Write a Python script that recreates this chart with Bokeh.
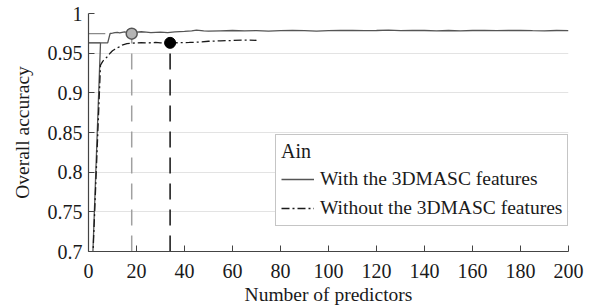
from bokeh.plotting import figure
from bokeh.models import Legend, LegendItem, FixedTicker, Range1d
from bokeh.embed import file_html
from bokeh.resources import INLINE

# ---- data ----
with_x = [1, 5, 8, 9, 10, 11, 12, 13, 14, 15, 16, 17, 18, 19, 20, 22, 24, 26, 28, 30,
          33, 36, 40, 43, 45, 48, 50, 55, 60, 65, 70, 75, 80, 85, 90, 95, 100, 105,
          110, 115, 120, 125, 130, 135, 140, 145, 150, 155, 160, 165, 170, 175, 180,
          185, 190, 195, 200]
with_y = [0.630, 0.963, 0.963, 0.9748, 0.9752, 0.9758, 0.9762, 0.9756, 0.9762, 0.9768,
          0.9762, 0.9755, 0.9752, 0.9758, 0.9765, 0.9770, 0.9764, 0.9758, 0.9762, 0.9766,
          0.9760, 0.9768, 0.9774, 0.9780, 0.9790, 0.9782, 0.9778, 0.9782, 0.9786, 0.9780,
          0.9784, 0.9778, 0.9784, 0.9788, 0.9784, 0.9778, 0.9784, 0.9786, 0.9788, 0.9784,
          0.9786, 0.9790, 0.9784, 0.9786, 0.9786, 0.9782, 0.9786, 0.9780, 0.9786, 0.9786,
          0.9784, 0.9786, 0.9788, 0.9784, 0.9782, 0.9786, 0.9784]

without_x = [1, 5, 6, 7, 8, 9, 10, 11, 12, 13, 14, 15, 16, 18, 20, 22, 25, 28, 30, 34,
             38, 42, 46, 50, 55, 60, 65, 70]
without_y = [0.630, 0.935, 0.940, 0.943, 0.946, 0.950, 0.953, 0.955, 0.957, 0.958, 0.960,
             0.961, 0.962, 0.9625, 0.9630, 0.9632, 0.9630, 0.9635, 0.9630, 0.9630, 0.9632,
             0.9635, 0.9640, 0.9650, 0.9655, 0.9660, 0.9665, 0.9662]

# selected (best) points
best_with = (18, 0.9746)
best_without = (34, 0.9630)
# reference levels drawn from the y axis
ref_with = (0, 7, 0.9746)
ref_without = (0, 5, 0.9630)

x_ticks = [0, 20, 40, 60, 80, 100, 120, 140, 160, 180, 200]
y_ticks = [0.7, 0.75, 0.8, 0.85, 0.9, 0.95, 1.0]
y_tick_labels = ["0.7", "0.75", "0.8", "0.85", "0.9", "0.95", "1"]

legend_title = "Ain"
label_with = "With the 3DMASC features"
label_without = "Without the 3DMASC features"

FONT = "Liberation Serif"

p = figure(width=597, height=307, output_backend="svg", toolbar_location=None,
           x_range=Range1d(0, 200), y_range=Range1d(0.7, 1.0),
           min_border_left=88, min_border_right=29, min_border_top=13, min_border_bottom=54)
p.outline_line_color = None
p.background_fill_color = "white"

# grid
p.xgrid.visible = False
p.ygrid.ticker = FixedTicker(ticks=y_ticks)
p.ygrid.grid_line_color = "#e3e3e3"
p.ygrid.grid_line_width = 1

# axes
for ax in (p.xaxis[0], p.yaxis[0]):
    ax.axis_line_color = "#444444"
    ax.axis_line_width = 1.2
    ax.major_tick_line_color = "#444444"
    ax.major_tick_in = 6
    ax.major_tick_out = 0
    ax.minor_tick_line_color = None
    ax.major_label_text_font = FONT
    ax.major_label_text_font_size = "20px"
    ax.major_label_text_color = "#1a1a1a"
    ax.axis_label_text_font = FONT
    ax.axis_label_text_font_size = "19.5px"
    ax.axis_label_text_font_style = "normal"
    ax.axis_label_text_color = "#1a1a1a"

p.xaxis.ticker = FixedTicker(ticks=x_ticks)
p.yaxis.ticker = FixedTicker(ticks=y_ticks)
p.yaxis.major_label_overrides = {t: s for t, s in zip(y_ticks, y_tick_labels)}
p.xaxis.axis_label = "Number of predictors"
p.yaxis.axis_label = "Overall accuracy"
p.xaxis.major_label_standoff = 12
p.xaxis.axis_label_standoff = 3
p.yaxis.major_label_standoff = 6
p.yaxis.axis_label_standoff = 12

# reference horizontal lines
p.segment(x0=[ref_with[0]], x1=[ref_with[1]], y0=[ref_with[2]], y1=[ref_with[2]],
          line_color="#8a8a8a", line_width=1.3)
p.segment(x0=[ref_without[0]], x1=[ref_without[1]], y0=[ref_without[2]], y1=[ref_without[2]],
          line_color="#333333", line_width=1.3)

# vertical dashed lines to the selected points
p.segment(x0=[best_with[0]], x1=[best_with[0]], y0=[y_ticks[0]], y1=[best_with[1]],
          line_color="#a0a0a0", line_width=1.5, line_dash="16 10")
p.segment(x0=[best_without[0]], x1=[best_without[0]], y0=[y_ticks[0]], y1=[best_without[1]],
          line_color="#111111", line_width=1.5, line_dash="16 10")

# curves
r_with = p.line(with_x, with_y, line_color="#555555", line_width=1.3)
r_without = p.line(without_x, without_y, line_color="#1a1a1a", line_width=1.3,
                   line_dash="8 3 2 3")

# points
p.scatter([best_with[0]], [best_with[1]], size=11, fill_color="#b5b5b5",
          line_color="#555555", line_width=1.5)
p.scatter([best_without[0]], [best_without[1]], size=11, fill_color="#000000",
          line_color="#000000", line_width=1)

legend = Legend(items=[LegendItem(label=label_with, renderers=[r_with]),
                       LegendItem(label=label_without, renderers=[r_without])],
                title=legend_title, location=(187, 25))
legend.title_text_font = FONT
legend.title_text_font_size = "20px"
legend.title_text_font_style = "normal"
legend.title_text_color = "#1a1a1a"
legend.title_standoff = 4
legend.label_text_font = FONT
legend.label_text_font_size = "19.5px"
legend.label_text_color = "#1a1a1a"
legend.glyph_width = 33
legend.label_standoff = 6
legend.label_height = 24
legend.label_width = 239
legend.spacing = 5
legend.padding = 5
legend.margin = 0
legend.border_line_color = "#8c8c8c"
legend.border_line_width = 1.2
legend.background_fill_color = "white"
legend.background_fill_alpha = 1.0
p.add_layout(legend, "center")

open("out.html", "w").write(file_html(p, INLINE))
